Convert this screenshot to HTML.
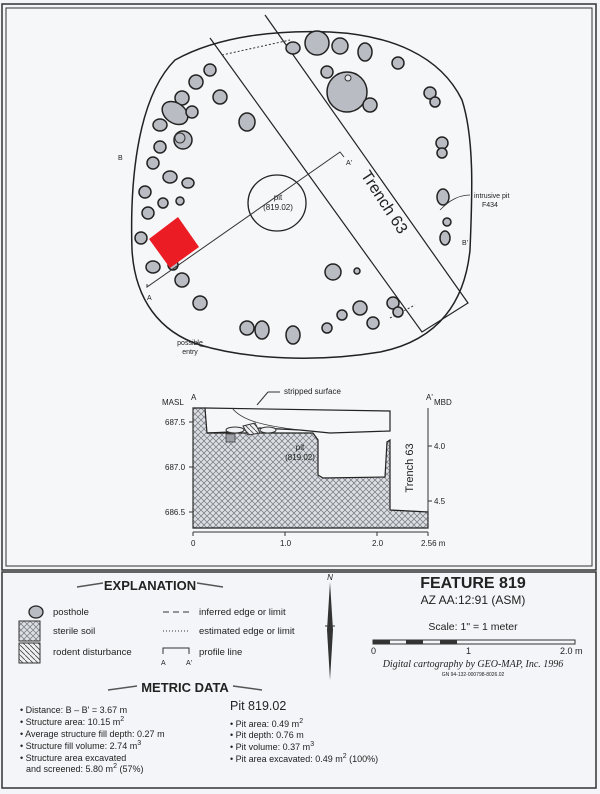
<!DOCTYPE html>
<html><head><meta charset="utf-8"><style>
body{margin:0;background:#f3f5f8;}
svg{display:block}
text{font-family:"Liberation Sans",sans-serif;fill:#222}
</style></head><body>
<svg width="600" height="794" viewBox="0 0 600 794" xmlns="http://www.w3.org/2000/svg">
<defs>
<pattern id="herr" width="6" height="6" patternUnits="userSpaceOnUse">
<rect width="6" height="6" fill="#dcdfe4"/>
<path d="M0 3 L3 0 M3 6 L6 3 M3 0 L6 3 M0 3 L3 6" stroke="#7d8087" stroke-width="0.8" fill="none"/>
</pattern>
<pattern id="diag" width="5" height="5" patternUnits="userSpaceOnUse">
<rect width="5" height="5" fill="#eef0f3"/>
<path d="M0 0 L5 5" stroke="#444" stroke-width="0.8"/>
</pattern>
</defs>
<rect width="600" height="794" fill="#f3f5f8"/>
<rect x="2" y="4" width="594" height="566" fill="none" stroke="#333" stroke-width="1.5"/>
<rect x="6" y="8" width="586" height="558" fill="#f5f7f9" stroke="#333" stroke-width="1"/>
<rect x="2" y="572" width="594" height="216" fill="none" stroke="#333" stroke-width="1.5"/>

<path d="M175,60 C220,35 280,30 330,32 C390,35 440,55 462,100 C475,140 472,200 470,250 C465,300 440,340 380,352 C320,362 250,360 200,345 C160,332 135,300 132,250 C130,190 135,100 175,60 Z" fill="none" stroke="#222" stroke-width="1.5"/>
<path d="M210,38 L422,332 L468,303 L265,15" fill="none" stroke="#222" stroke-width="1.2"/>
<line x1="222" y1="55" x2="290" y2="40" stroke="#333" stroke-width="1" stroke-dasharray="2,2"/>
<line x1="390" y1="318" x2="415" y2="305" stroke="#333" stroke-width="1" stroke-dasharray="2,2"/>
<g fill="#b9bcc2" stroke="#222" stroke-width="1.5">
<ellipse cx="317" cy="43" rx="12" ry="12"/><ellipse cx="340" cy="46" rx="8" ry="8"/>
<ellipse cx="365" cy="52" rx="7" ry="9"/><ellipse cx="293" cy="48" rx="7" ry="6"/>
<ellipse cx="398" cy="63" rx="6" ry="6"/><ellipse cx="327" cy="72" rx="6" ry="6"/>
<ellipse cx="347" cy="92" rx="20" ry="20"/><ellipse cx="370" cy="105" rx="7" ry="7"/>
<ellipse cx="430" cy="93" rx="6" ry="6"/><ellipse cx="435" cy="102" rx="5" ry="5"/>
<ellipse cx="210" cy="70" rx="6" ry="6"/><ellipse cx="196" cy="82" rx="7" ry="7"/>
<ellipse cx="220" cy="97" rx="7" ry="7"/><ellipse cx="182" cy="98" rx="7" ry="7"/>
<ellipse cx="175" cy="113" rx="14" ry="10" transform="rotate(35 175 113)"/>
<ellipse cx="192" cy="112" rx="6" ry="6"/><ellipse cx="160" cy="125" rx="7" ry="6"/>
<ellipse cx="247" cy="122" rx="8" ry="9"/><ellipse cx="183" cy="140" rx="9" ry="9"/>
<ellipse cx="160" cy="147" rx="6" ry="6"/><ellipse cx="153" cy="163" rx="6" ry="6"/>
<ellipse cx="170" cy="177" rx="7" ry="6"/><ellipse cx="188" cy="183" rx="6" ry="5"/>
<ellipse cx="145" cy="192" rx="6" ry="6"/><ellipse cx="163" cy="203" rx="5" ry="5"/>
<ellipse cx="180" cy="201" rx="4" ry="4"/><ellipse cx="148" cy="213" rx="6" ry="6"/>
<ellipse cx="141" cy="238" rx="6" ry="6"/><ellipse cx="153" cy="267" rx="7" ry="6"/>
<ellipse cx="173" cy="265" rx="5" ry="5"/><ellipse cx="182" cy="280" rx="7" ry="7"/>
<ellipse cx="200" cy="303" rx="7" ry="7"/><ellipse cx="247" cy="328" rx="7" ry="7"/>
<ellipse cx="262" cy="330" rx="7" ry="9"/><ellipse cx="293" cy="335" rx="7" ry="9"/>
<ellipse cx="327" cy="328" rx="5" ry="5"/><ellipse cx="342" cy="315" rx="5" ry="5"/>
<ellipse cx="360" cy="308" rx="7" ry="7"/><ellipse cx="373" cy="323" rx="6" ry="6"/>
<ellipse cx="333" cy="272" rx="8" ry="8"/><ellipse cx="357" cy="271" rx="3" ry="3"/>
<ellipse cx="393" cy="303" rx="6" ry="6"/><ellipse cx="398" cy="312" rx="5" ry="5"/>
<ellipse cx="442" cy="143" rx="6" ry="6"/><ellipse cx="442" cy="153" rx="5" ry="5"/>
<ellipse cx="443" cy="197" rx="6" ry="8"/><ellipse cx="445" cy="238" rx="5" ry="7"/>
<ellipse cx="447" cy="222" rx="4" ry="4"/>
</g>
<ellipse cx="348" cy="78" rx="3" ry="3" fill="#e8eaee" stroke="#333"/>
<ellipse cx="180" cy="138" rx="5" ry="5" fill="none" stroke="#333"/>
<ellipse cx="277" cy="203" rx="29" ry="28" fill="none" stroke="#222" stroke-width="1.3"/>
<text x="278" y="200" font-size="8" text-anchor="middle">pit</text>
<text x="278" y="210" font-size="8" text-anchor="middle">(819.02)</text>
<path d="M147,284 L147,287 L340,152 L344,157" fill="none" stroke="#333" stroke-width="1"/>
<text x="346" y="165" font-size="7">A'</text>
<text x="147" y="300" font-size="7">A</text>
<text x="118" y="160" font-size="7">B</text>
<text x="462" y="245" font-size="7">B'</text>
<path d="M470,195 C455,195 445,205 440,210" fill="none" stroke="#333" stroke-width="0.8"/>
<text x="474" y="198" font-size="7">intrusive pit</text>
<text x="482" y="207" font-size="7">F434</text>
<text x="380" y="205" font-size="16" transform="rotate(57 380 205)" text-anchor="middle">Trench 63</text>
<polygon points="149,239 178,217 199,247 170,268" fill="#ec1c24"/>
<path d="M197,342 L200,346 L212,348" fill="none" stroke="#333" stroke-width="0.8"/>
<text x="190" y="345" font-size="7" text-anchor="middle">possible</text>
<text x="190" y="354" font-size="7" text-anchor="middle">entry</text>

<polygon points="193,408 205,408 207,433 313,433 318,440 318,475 323,478 385,477 387,442 390,440 390,510 428,512 428,528 193,528" fill="url(#herr)" stroke="#222" stroke-width="1.2"/>
<path d="M205,408 L390,411 L390,431 L360,432 L330,433 L300,430 L260,428 L230,432 L207,433" fill="none" stroke="#222" stroke-width="1.2"/>
<path d="M232,408 C240,418 255,425 300,430" fill="none" stroke="#333" stroke-width="0.8"/>
<ellipse cx="235" cy="430" rx="9" ry="3" fill="#eef0f3" stroke="#333"/>
<polygon points="243,426 255,423 260,433 248,435" fill="url(#diag)" stroke="#333"/>
<ellipse cx="268" cy="430" rx="8" ry="3" fill="#eef0f3" stroke="#333"/>
<rect x="226" y="434" width="9" height="8" fill="#9ca0a6" stroke="#333" stroke-width="0.7"/>
<line x1="193" y1="408" x2="193" y2="528" stroke="#333"/>
<line x1="428" y1="408" x2="428" y2="528" stroke="#333"/>
<line x1="193" y1="532" x2="428" y2="532" stroke="#333"/>
<g stroke="#333"><line x1="189" y1="422" x2="193" y2="422"/><line x1="189" y1="467" x2="193" y2="467"/><line x1="189" y1="512" x2="193" y2="512"/>
<line x1="428" y1="446" x2="432" y2="446"/><line x1="428" y1="501" x2="432" y2="501"/>
<line x1="193" y1="532" x2="193" y2="536"/><line x1="285" y1="532" x2="285" y2="536"/><line x1="377" y1="532" x2="377" y2="536"/><line x1="428" y1="532" x2="428" y2="536"/>
<line x1="257" y1="405" x2="268" y2="392"/><line x1="268" y1="392" x2="280" y2="392"/></g>
<g font-size="8"><text x="162" y="405">MASL</text><text x="434" y="405">MBD</text>
<text x="165" y="425">687.5</text><text x="165" y="470">687.0</text><text x="165" y="515">686.5</text>
<text x="434" y="449">4.0</text><text x="434" y="504">4.5</text>
<text x="191" y="546">0</text><text x="280" y="546">1.0</text><text x="372" y="546">2.0</text><text x="421" y="546">2.56 m</text>
<text x="284" y="394">stripped surface</text><text x="191" y="400">A</text><text x="426" y="400">A'</text>
<text x="300" y="450" text-anchor="middle">pit</text><text x="300" y="460" text-anchor="middle">(819.02)</text></g>
<text x="413" y="468" font-size="11" transform="rotate(-90 413 468)" text-anchor="middle">Trench 63</text>

<text x="150" y="590" font-size="13" font-weight="bold" text-anchor="middle">EXPLANATION</text>
<path d="M77,587 L103,583 M197,583 L223,587" stroke="#555" stroke-width="1.5"/>
<ellipse cx="36" cy="612" rx="7" ry="6" fill="#b9bcc2" stroke="#222" stroke-width="1.3"/>
<rect x="19" y="621" width="21" height="20" fill="url(#herr)" stroke="#333"/>
<rect x="19" y="643" width="21" height="20" fill="url(#diag)" stroke="#333"/>
<g font-size="9.5"><text x="53" y="615">posthole</text><text x="53" y="634">sterile soil</text><text x="53" y="655">rodent disturbance</text>
<text x="199" y="615">inferred edge or limit</text><text x="199" y="634">estimated edge or limit</text><text x="199" y="655">profile line</text></g>
<line x1="163" y1="612" x2="190" y2="612" stroke="#333" stroke-dasharray="6,4"/>
<line x1="163" y1="631" x2="190" y2="631" stroke="#333" stroke-dasharray="1,2"/>
<path d="M163,654 L163,648 L189,648 L189,654" fill="none" stroke="#333"/>
<text x="161" y="665" font-size="7">A</text><text x="186" y="665" font-size="7">A'</text>
<polygon points="330,582 333,630 330,680 327,630" fill="#333"/>
<line x1="325" y1="626" x2="335" y2="626" stroke="#333"/>
<text x="330" y="580" font-size="8" font-style="italic" text-anchor="middle">N</text>
<text x="473" y="588" font-size="16" font-weight="bold" text-anchor="middle">FEATURE 819</text>
<text x="473" y="604" font-size="12" text-anchor="middle">AZ AA:12:91 (ASM)</text>
<text x="473" y="630" font-size="10.5" text-anchor="middle">Scale: 1" = 1 meter</text>
<rect x="373" y="640" width="202" height="4" fill="none" stroke="#333"/>
<g fill="#333"><rect x="373" y="640" width="17" height="4"/><rect x="406" y="640" width="17" height="4"/><rect x="440" y="640" width="17" height="4"/></g>
<g font-size="9"><text x="371" y="654">0</text><text x="466" y="654">1</text><text x="560" y="654">2.0 m</text></g>
<text x="473" y="667" font-size="10" font-style="italic" text-anchor="middle" style="font-family:'Liberation Serif',serif">Digital cartography by GEO-MAP, Inc. 1996</text>
<text x="473" y="676" font-size="5" text-anchor="middle">GN 94-132-000798-8026.02</text>
<text x="185" y="692" font-size="13" font-weight="bold" text-anchor="middle">METRIC DATA</text>
<path d="M108,690 L137,686 M233,686 L262,690" stroke="#555" stroke-width="1.5"/>
<g font-size="9">
<text x="20" y="713">• Distance: B – B' = 3.67 m</text>
<text x="20" y="725">• Structure area: 10.15 m<tspan dy="-4" font-size="7">2</tspan></text>
<text x="20" y="737">• Average structure fill depth: 0.27 m</text>
<text x="20" y="749">• Structure fill volume: 2.74 m<tspan dy="-4" font-size="7">3</tspan></text>
<text x="20" y="761">• Structure area excavated</text>
<text x="26" y="772">and screened: 5.80 m<tspan dy="-4" font-size="7">2</tspan><tspan dy="4"> (57%)</tspan></text>
<text x="230" y="727">• Pit area: 0.49 m<tspan dy="-4" font-size="7">2</tspan></text>
<text x="230" y="738">• Pit depth: 0.76 m</text>
<text x="230" y="750">• Pit volume: 0.37 m<tspan dy="-4" font-size="7">3</tspan></text>
<text x="230" y="762">• Pit area excavated: 0.49 m<tspan dy="-4" font-size="7">2</tspan><tspan dy="4"> (100%)</tspan></text>
</g>
<text x="230" y="710" font-size="12.5">Pit 819.02</text>
</svg>
</body></html>
